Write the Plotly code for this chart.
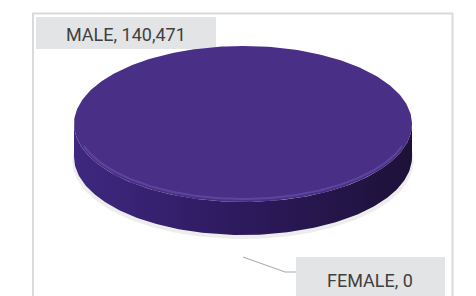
import numpy as np
import plotly.graph_objects as go

# ---- data ----
categories = ["MALE", "FEMALE"]
values = [140471, 0]
label_texts = [f"{c}, {v:,}" for c, v in zip(categories, values)]

# ---- geometry (pixels, reference coordinates) ----
W, H = 476, 296
OFF = 8  # page body margin offset compensation
cx, cy, rx, ry, depth = 243, 124, 169, 78, 33
top_color = "#4a2f87"

fig = go.Figure()

def pt(theta, dy=0.0, sx=1.0, sy=1.0):
    return cx + rx * sx * np.sin(theta), cy + dy - ry * sy * np.cos(theta)

total = sum(values)
# shadow
t = np.linspace(0, 2 * np.pi, 200)
sx_, sy_ = pt(t, dy=depth + 4, sx=1.01, sy=1.0)
fig.add_trace(go.Scatter(x=sx_, y=sy_, mode="lines", fill="toself",
                         fillcolor="rgba(0,0,0,0.07)", line=dict(width=0),
                         hoverinfo="skip", showlegend=False))

start = 0.0
for cat, v in zip(categories, values):
    if v <= 0:
        continue
    a0 = start
    a1 = start + 2 * np.pi * v / total
    start = a1
    s0, s1 = max(a0, np.pi / 2), min(a1, 3 * np.pi / 2)
    if s1 > s0:
        th = np.linspace(s0, s1, 150)
        x1, y1 = pt(th)
        x2, y2 = pt(th[::-1], dy=depth)
        fig.add_trace(go.Scatter(
            x=np.concatenate([x1, x2]), y=np.concatenate([y1, y2]),
            mode="lines", fill="toself", line=dict(width=0),
            fillgradient=dict(type="horizontal",
                              colorscale=[[0, "#3e2880"], [0.45, "#2e1b60"], [1, "#1d1138"]]),
            hoverinfo="skip", showlegend=False))
    th = np.linspace(a0, a1, 300)
    xs, ys = pt(th)
    if a1 - a0 < 2 * np.pi - 1e-9:
        xs = np.concatenate([[cx], xs, [cx]])
        ys = np.concatenate([[cy], ys, [cy]])
    fig.add_trace(go.Scatter(x=xs, y=ys, mode="lines", fill="toself",
                             fillcolor=top_color, line=dict(width=0),
                             name=cat, hoverinfo="name", showlegend=False))
    th = np.linspace(max(a0, np.pi * 0.6), min(a1, np.pi * 1.4), 150)
    hx, hy = pt(th, dy=-1.5, sx=0.99, sy=0.98)
    fig.add_trace(go.Scatter(x=hx, y=hy, mode="lines",
                             line=dict(color="rgba(120,95,185,0.45)", width=2),
                             hoverinfo="skip", showlegend=False))

# leader line for FEMALE label
lead_x = [cx, cx + 42, cx + 53]
lead_y = [cy + ry + depth + 22, cy + ry + depth + 37, cy + ry + depth + 37]
fig.add_trace(go.Scatter(x=lead_x, y=lead_y, mode="lines",
                         line=dict(color="#a6a6a6", width=1),
                         hoverinfo="skip", showlegend=False))

shapes = [
    dict(type="line", x0=470.5, x1=470.5, y0=0, y1=H + 10, line=dict(color="#f0f0f0", width=1)),
    dict(type="rect", x0=33, y0=13.5, x1=452.5, y1=H + 10, line=dict(color="#dadada", width=2)),
    dict(type="rect", x0=36, y0=17, x1=216, y1=49, fillcolor="#e3e4e6", line=dict(width=0), layer="below"),
    dict(type="rect", x0=296, y0=257, x1=445, y1=H + 10, fillcolor="#e3e4e6", line=dict(width=0), layer="below"),
]

font = dict(family="Roboto", size=18, color="#404040")
annotations = [
    dict(x=126, y=34, text=label_texts[0], showarrow=False, font=font, xanchor="center", yanchor="middle"),
    dict(x=370, y=280, text=label_texts[1], showarrow=False, font=font, xanchor="center", yanchor="middle"),
]

fig.update_layout(
    width=W, height=H, margin=dict(l=0, r=0, t=0, b=0),
    paper_bgcolor="white", plot_bgcolor="white",
    xaxis=dict(range=[OFF, W + OFF], visible=False, fixedrange=True),
    yaxis=dict(range=[H + OFF, OFF], visible=False, fixedrange=True),
    shapes=shapes, annotations=annotations, showlegend=False,
)
fig.write_html("out.html")
